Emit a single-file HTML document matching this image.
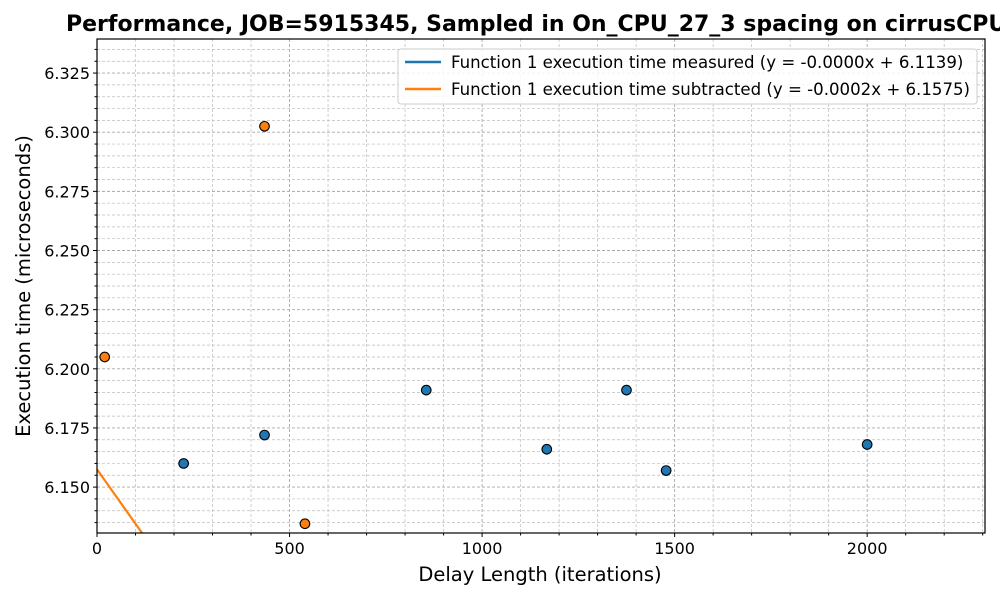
<!DOCTYPE html>
<html><head><meta charset="utf-8"><style>
body{margin:0;background:#fff;width:1000px;height:600px;overflow:hidden}
svg{display:block}
text{font-family:"DejaVu Sans","Liberation Sans",sans-serif}
</style></head><body>
<svg id="chart" width="1000" height="600">
<text x="66" y="31" font-size="22" font-weight="bold">Performance, JOB=5915345, Sampled in On_CPU_27_3 spacing on cirrusCPU</text>
<g id="grid"></g><g id="ticks"></g><g id="marks"></g>
<rect x="97" y="39" width="888" height="494" fill="none" stroke="#000" stroke-width="1.2"/>
<text x="540" y="581" font-size="19.5" text-anchor="middle">Delay Length (iterations)</text>
<text transform="translate(30,286) rotate(-90)" font-size="19.5" text-anchor="middle">Execution time (microseconds)</text>
<g>
<rect x="398" y="49" width="579" height="55" fill="#fff" fill-opacity="0.85" stroke="#ccc" rx="3"/>
<line x1="405" y1="62" x2="441" y2="62" stroke="#1f77b4" stroke-width="2.5"/>
<text x="451" y="68" font-size="16.6">Function 1 execution time measured (y = -0.0000x + 6.1139)</text>
<line x1="405" y1="89" x2="441" y2="89" stroke="#ff7f0e" stroke-width="2.5"/>
<text x="451" y="95" font-size="16.6">Function 1 execution time subtracted (y = -0.0002x + 6.1575)</text>
</g>
</svg>
<script>
const measuredX=[225,435,855,1168,1375,1478,2000];
const measuredY=[6.160,6.172,6.191,6.166,6.191,6.157,6.168];
const subtractedX=[20,435,540];
const subtractedY=[6.205,6.3025,6.1345];
const fitMeasured=[-0.00000,6.1139];
const fitSubtracted=[-0.00023,6.1575];
const xTicks=[0,500,1000,1500,2000];
const yTicks=[6.150,6.175,6.200,6.225,6.250,6.275,6.300,6.325];
const X0=97,X1=985,Y0=533,Y1=39,xmin=0,xmax=2306,ymin=6.1306,ymax=6.3394;
const sx=v=>X0+(v-xmin)/(xmax-xmin)*(X1-X0);
const sy=v=>Y0-(v-ymin)/(ymax-ymin)*(Y0-Y1);
const NS='http://www.w3.org/2000/svg';
function mk(p,t,a){const e=document.createElementNS(NS,t);for(const k in a)e.setAttribute(k,a[k]);p.appendChild(e);return e;}
const grid=document.getElementById('grid'),ticks=document.getElementById('ticks'),marks=document.getElementById('marks');
for(let v=0;v<=xmax;v+=100){const x=sx(v);const major=v%500===0;
const l=mk(grid,'line',{x1:x,x2:x,y1:Y1,y2:Y0,stroke:major?'#a8a8a8':'#bdbdbd','stroke-width':major?0.9:0.7,'stroke-dasharray':'3,2'});


mk(ticks,'line',{x1:x,x2:x,y1:Y0,y2:Y0+(major?4:2.5),stroke:'#000'});}
for(let i=0;;i++){const v=6.135+i*0.005;if(v>ymax)break;const y=sy(v);const major=i%5===3;
const l=mk(grid,'line',{x1:X0,x2:X1,y1:y,y2:y,stroke:major?'#a8a8a8':'#bdbdbd','stroke-width':major?0.9:0.7,'stroke-dasharray':'3,2'});


mk(ticks,'line',{x1:X0,x2:X0-(major?4:2.5),y1:y,y2:y,stroke:'#000'});}
xTicks.forEach(v=>{const t=mk(ticks,'text',{x:sx(v),y:Y0+21,'font-size':16,'text-anchor':'middle'});t.textContent=v;

});
yTicks.forEach(v=>{const t=mk(ticks,'text',{x:X0-7,y:sy(v)+6,'font-size':16,'text-anchor':'end'});t.textContent=v.toFixed(3);

});
const defs=mk(document.getElementById('chart'),'defs',{});const cp=mk(defs,'clipPath',{id:'clip'});mk(cp,'rect',{x:X0,y:Y1,width:X1-X0,height:Y0-Y1});
[[fitMeasured,'#1f77b4','fit-line-measured'],[fitSubtracted,'#ff7f0e','fit-line-subtracted']].forEach(([f,c,n])=>{
const l=mk(marks,'line',{x1:sx(xmin),y1:sy(f[1]+f[0]*xmin),x2:sx(xmax),y2:sy(f[1]+f[0]*xmax),stroke:c,'stroke-width':2.2,'clip-path':'url(#clip)'});

});
measuredX.forEach((v,i)=>{const c=mk(marks,'circle',{cx:sx(v),cy:sy(measuredY[i]),r:4.8,fill:'#1f77b4',stroke:'#000','stroke-width':1.1});

});
subtractedX.forEach((v,i)=>{const c=mk(marks,'circle',{cx:sx(v),cy:sy(subtractedY[i]),r:4.8,fill:'#ff7f0e',stroke:'#000','stroke-width':1.1});

});
</script>
</body></html>
